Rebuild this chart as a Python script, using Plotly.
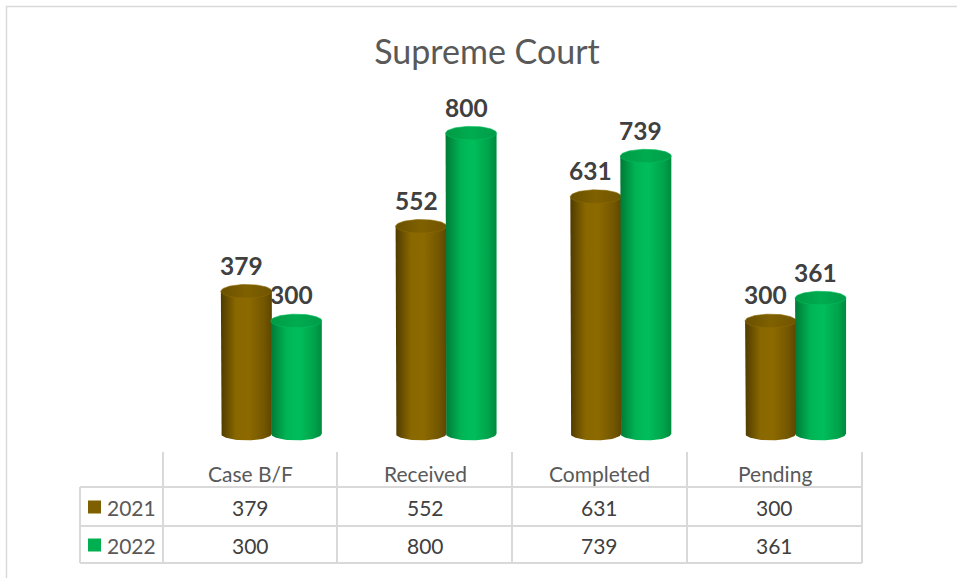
import numpy as np
import plotly.graph_objects as go

categories = ["Case B/F", "Received", "Completed", "Pending"]
years = ["2021", "2022"]
values_2021 = [379, 552, 631, 300]
values_2022 = [300, 800, 739, 361]
title_text = "Supreme Court"

series = [
    dict(name="2021", values=values_2021, color="#7F6000", offset=-0.023,
         body=[[0, "#4F3B00"], [0.3, "#8A6800"], [0.55, "#8C6A00"], [0.85, "#735600"], [1, "#5E4600"]],
         top=[[0, "#6A5000"], [0.5, "#806100"], [1, "#705400"]]),
    dict(name="2022", values=values_2022, color="#00B050", offset=0.263,
         body=[[0, "#007A36"], [0.3, "#00B455"], [0.55, "#00BE5A"], [0.85, "#00A24A"], [1, "#008A3E"]],
         top=[[0, "#009A45"], [0.5, "#00AC50"], [1, "#009C48"]]),
]

FONT = "Lato"
W, H = 957, 578
ML, MR, MT, MB = 163, 95, 105, 135
Y0, Y1 = -25, 875
PLOT_H = H - MT - MB
PX_PER_UNIT = PLOT_H / (Y1 - Y0)
PX_PER_X = (W - ML - MR) / 4.0

half_w = 25.5 / PX_PER_X          # semi-major axis (x units)
half_h = 6.8 / PX_PER_UNIT        # semi-minor axis (y units)

fig = go.Figure()
t_lo = np.linspace(np.pi, 2 * np.pi, 40)
t_full = np.linspace(0, 2 * np.pi, 80)

for s in series:
    for i, v in enumerate(s["values"]):
        xc = i + s["offset"]
        bx = np.concatenate([[xc - half_w], xc + half_w * np.cos(t_lo), [xc + half_w, xc - half_w]])
        by = np.concatenate([[v], half_h * np.sin(t_lo), [v, v]])
        fig.add_trace(go.Scatter(
            x=bx, y=by, mode="lines", line=dict(width=0), fill="toself",
            fillgradient=dict(type="horizontal", colorscale=s["body"]),
            hoverinfo="skip", showlegend=False))
        tx = xc + half_w * np.cos(t_full)
        ty = v + half_h * np.sin(t_full)
        fig.add_trace(go.Scatter(
            x=tx, y=ty, mode="lines", line=dict(width=0.6, color=s["body"][2][1]), fill="toself",
            fillgradient=dict(type="horizontal", colorscale=s["top"]),
            hoverinfo="skip", showlegend=False))
        fig.add_annotation(x=xc, y=v, xref="x", yref="y", text=f"<b>{v}</b>",
                           showarrow=False, yshift=26, xshift=-5,
                           font=dict(family=FONT, size=24.5, color="#404040"))

def py_to_paper(py):
    return (H - MB - py) / PLOT_H

def px_to_paper(px):
    return (px - ML) / (W - ML - MR)

for i, c in enumerate(categories):
    fig.add_annotation(x=i, y=py_to_paper(474), xref="x", yref="paper", text=c,
                       showarrow=False, yanchor="middle",
                       font=dict(family=FONT, size=21, color="#595959"))

row_y = [507, 545]
for r, s in enumerate(series):
    for i, v in enumerate(s["values"]):
        fig.add_annotation(x=i, y=py_to_paper(row_y[r]), xref="x", yref="paper", text=str(v),
                           showarrow=False, yanchor="middle",
                           font=dict(family=FONT, size=21, color="#404040"))
    fig.add_annotation(x=px_to_paper(105), y=py_to_paper(row_y[r]), xref="paper", yref="paper",
                       text=s["name"], showarrow=False, xanchor="left", yanchor="middle",
                       font=dict(family=FONT, size=21, color="#595959"))
    fig.add_shape(type="rect", xref="paper", yref="paper",
                  x0=px_to_paper(88), x1=px_to_paper(101),
                  y0=py_to_paper(row_y[r] - 6.5), y1=py_to_paper(row_y[r] + 6.5),
                  fillcolor=s["color"], line=dict(width=0))

LINE = dict(color="#D9D9D9", width=2)
for px in [163, 337, 512, 687, 862]:
    fig.add_shape(type="line", xref="paper", yref="paper",
                  x0=px_to_paper(px), x1=px_to_paper(px),
                  y0=py_to_paper(452), y1=py_to_paper(563), line=LINE)
fig.add_shape(type="line", xref="paper", yref="paper",
              x0=px_to_paper(80), x1=px_to_paper(80),
              y0=py_to_paper(487), y1=py_to_paper(563), line=LINE)
for py in [487, 526, 563]:
    fig.add_shape(type="line", xref="paper", yref="paper",
                  x0=px_to_paper(80), x1=px_to_paper(862),
                  y0=py_to_paper(py), y1=py_to_paper(py), line=LINE)
fig.add_shape(type="rect", xref="paper", yref="paper",
              x0=px_to_paper(6.5), x1=px_to_paper(W + 10),
              y0=py_to_paper(H + 10), y1=py_to_paper(6.5),
              line=dict(color="#D9D9D9", width=1.5), fillcolor="rgba(0,0,0,0)")

fig.update_layout(
    width=W, height=H,
    margin=dict(l=ML, r=MR, t=MT, b=MB, pad=0),
    paper_bgcolor="white", plot_bgcolor="white",
    title=dict(text=title_text, x=487 / W, xref="container", xanchor="center",
               y=1 - 52 / H, yref="container", yanchor="middle",
               font=dict(family=FONT, size=34, color="#595959")),
    xaxis=dict(range=[-0.5, 3.5], showgrid=False, zeroline=False, showticklabels=False,
               showline=False, ticks="", fixedrange=True),
    yaxis=dict(range=[Y0, Y1], showgrid=False, zeroline=False, showticklabels=False,
               showline=False, ticks="", fixedrange=True),
    showlegend=False,
)

fig.write_html("out.html", config={"displayModeBar": False},
               post_script="document.body.style.margin='0px';document.body.style.overflow='hidden';")
